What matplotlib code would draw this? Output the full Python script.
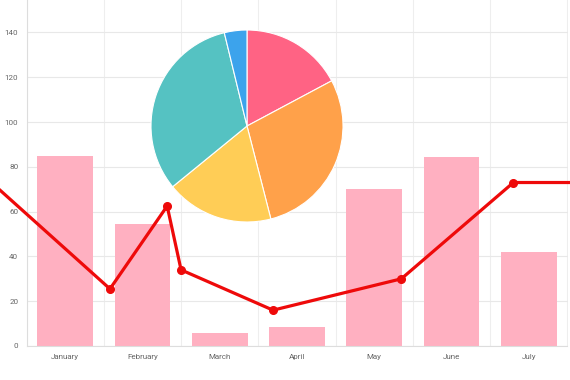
import numpy as np
import matplotlib
matplotlib.use("Agg")
import matplotlib.pyplot as plt

# bar data
months = ["January", "February", "March", "April", "May", "June", "July"]
bar_vals = [85, 54.5, 6, 8.5, 70, 84.5, 42]

# red line (x in category units, it does not sit on the categories)
line_x = [-0.84, 0.58, 1.32, 1.50, 2.69, 4.35, 5.80, 6.60]
line_y = [69.5, 25.5, 62.5, 34, 16, 30, 73, 73]

# pie slices, clockwise from the top
pie_vals = [17.2, 28.8, 18.1, 32.1, 3.8]
pie_cols = ["#FF6384", "#FFA14A", "#FFCD56", "#55C2C2", "#3CA3EC"]

W, H = 570, 380
fig = plt.figure(figsize=(W / 100, H / 100), dpi=100)
plt.rcParams['font.family'] = ['Roboto', 'DejaVu Sans']

ax = fig.add_axes([26.5 / W, 34 / H, (567.5 - 26.5) / W, (H - 34) / H])
x = np.arange(len(months))
ax.bar(x, bar_vals, width=0.72, color="#FFB0C1", zorder=2)
ax.plot(line_x, line_y, color="#EE0A0A", lw=2.3, marker="o", ms=5.5,
        markevery=[1, 2, 3, 4, 5, 6], clip_on=False, zorder=3)

ax.set_xlim(-0.5, 6.5)
ax.set_ylim(0, 154.5)
ax.set_yticks(range(0, 141, 20))
ax.set_xticks(x)
ax.set_xticklabels(months)
ax.set_xticks(np.arange(-0.5, 7, 1), minor=True)
ax.tick_params(axis="both", which="major", labelsize=5.8, colors="#666666",
               length=0, pad=6)
ax.tick_params(axis="x", which="minor", length=0)
ax.grid(axis="y", color="#E8E8E8", lw=0.8, zorder=0)
ax.grid(axis="x", which="minor", color="#EEEEEE", lw=0.8, zorder=0)
for s in ["top", "right"]:
    ax.spines[s].set_visible(False)
for s in ["left", "bottom"]:
    ax.spines[s].set_color("#DDDDDD")

# pie on top
cx, cy, r = 247, 126, 96
pax = fig.add_axes([(cx - r) / W, (H - cy - r) / H, 2 * r / W, 2 * r / H])
pax.pie(pie_vals, colors=pie_cols, startangle=90, counterclock=False,
        wedgeprops=dict(edgecolor="white", linewidth=0.8))
pax.set_xlim(-1, 1)
pax.set_ylim(-1, 1)
pax.set_aspect("equal")
pax.axis("off")

fig.savefig("out.png", dpi=100)
